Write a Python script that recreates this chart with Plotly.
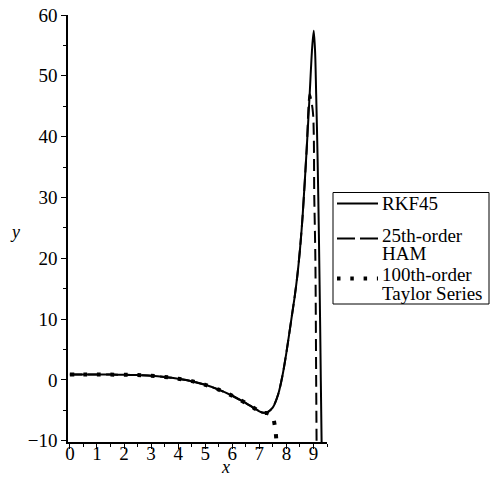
import plotly.graph_objects as go

# RKF45 solution
rkf_x = [0, 0.5, 1, 1.5, 2, 2.5, 3, 3.5, 4, 4.5, 5, 5.5, 6, 6.5, 6.8, 7.0, 7.15,
         7.3, 7.5, 7.7, 7.85, 8.0, 8.2, 8.3, 8.4, 8.5, 8.6, 8.75, 8.86, 8.95, 9.01,
         9.06, 9.1, 9.15, 9.2, 9.25, 9.3, 9.32]
rkf_y = [0.9, 0.9, 0.9, 0.88, 0.85, 0.8, 0.7, 0.5, 0.2, -0.2, -0.8, -1.6, -2.6,
         -3.8, -4.6, -5.15, -5.4, -5.3, -4.5, -2.3, 0.6, 4.5, 10.5, 13.5, 17.0,
         21.4, 27.0, 38.0, 47.0, 54.5, 57.4, 54.0, 47.0, 37.0, 24.0, 8.0, -10.0, -14.0]

# 25th-order HAM
ham_x = [0, 0.5, 1, 1.5, 2, 2.5, 3, 3.5, 4, 4.5, 5, 5.5, 6, 6.5, 6.8, 7.0, 7.15,
         7.3, 7.5, 7.7, 7.85, 8.0, 8.2, 8.3, 8.4, 8.5, 8.6, 8.75, 8.86, 8.98, 9.03,
         9.07, 9.1, 9.12]
ham_y = [0.9, 0.9, 0.9, 0.88, 0.85, 0.8, 0.7, 0.5, 0.2, -0.2, -0.8, -1.6, -2.6,
         -3.8, -4.6, -5.15, -5.4, -5.3, -4.5, -2.3, 0.6, 4.5, 10.5, 13.5, 17.0,
         21.4, 27.0, 38.0, 47.0, 44.0, 30.0, 20.0, 0.0, -14.0]

# 100th-order Taylor series
tay_x = [0, 0.5, 1, 1.5, 2, 2.5, 3, 3.5, 4, 4.5, 5, 5.5, 6, 6.5, 6.8, 7.0, 7.15,
         7.3, 7.48, 7.59, 7.63, 7.66]
tay_y = [0.9, 0.9, 0.9, 0.88, 0.85, 0.8, 0.7, 0.5, 0.2, -0.2, -0.8, -1.6, -2.6,
         -3.8, -4.6, -5.15, -5.4, -5.45, -5.9, -8.1, -10.0, -12.0]

x_ticks = [0, 1, 2, 3, 4, 5, 6, 7, 8, 9]
y_ticks = [-10, 0, 10, 20, 30, 40, 50, 60]

legend_lines = [["RKF45"], ["25th-order", "HAM"], ["100th-order", "Taylor Series"]]

serif = "Liberation Serif, Times New Roman, serif"
W = H = 491
ML, MR, MT, MB = 68, 164, 15, 49
PW, PH = W - ML - MR, H - MT - MB


def px(xp):
    return (xp - ML) / PW


def py(yp):
    return (H - MB - yp) / PH


styles = [dict(color="black", width=2),
          dict(color="black", width=2, dash="12px,6px"),
          dict(color="black", width=4, dash="4px,9.5px")]
legend_styles = [dict(color="black", width=2),
                 dict(color="black", width=2, dash="18px,5px"),
                 dict(color="black", width=4, dash="3.5px,9.8px")]

fig = go.Figure()
for xs, ys, lines, st in zip([rkf_x, ham_x, tay_x], [rkf_y, ham_y, tay_y],
                             legend_lines, styles):
    fig.add_trace(go.Scatter(x=xs, y=ys, mode="lines", name=" ".join(lines),
                             showlegend=False,
                             line=dict(shape="spline", smoothing=0.8, **st)))

fig.update_xaxes(range=[-0.07, 9.5], tickvals=x_ticks, ticks="outside", ticklen=5,
                 tickcolor="black", showline=True, linecolor="black", linewidth=1.5,
                 showgrid=False, zeroline=False, automargin=False,
                 ticklabelstandoff=-12,
                 minor=dict(dtick=0.5, tick0=0, ticks="outside", ticklen=3, tickcolor="black"),
                 tickfont=dict(family=serif, size=19, color="black"))
fig.update_yaxes(range=[-10.2, 60], tickvals=y_ticks, ticks="outside", ticklen=5,
                 tickcolor="black", showline=True, linecolor="black", linewidth=1.5,
                 showgrid=False, zeroline=False, automargin=False,
                 minor=dict(dtick=5, tick0=0, ticks="outside", ticklen=3, tickcolor="black"),
                 tickfont=dict(family=serif, size=19, color="black"))

fig.add_annotation(text="<i>x</i>", xref="x", yref="paper", x=5.75, y=py(467),
                   showarrow=False, font=dict(family=serif, size=18, color="black"),
                   yanchor="middle")
fig.add_annotation(text="<i>y</i>", xref="paper", yref="y", x=px(15), y=24.3,
                   showarrow=False, font=dict(family=serif, size=18, color="black"),
                   xanchor="center")

# legend drawn by hand to match the reference box
fig.add_shape(type="rect", xref="paper", yref="paper", x0=px(333), x1=px(489),
              y0=py(304), y1=py(192.5), line=dict(color="black", width=1),
              fillcolor="white", layer="above")
sample_y = [203.5, 238.5, 278.5]
text_y = [[203.5], [235, 253.5], [274, 293.5]]
for st, sy, lines, tys in zip(legend_styles, sample_y, legend_lines, text_y):
    fig.add_shape(type="line", xref="paper", yref="paper", x0=px(337), x1=px(378),
                  y0=py(sy), y1=py(sy), line=st, layer="above")
    for t, ty in zip(lines, tys):
        fig.add_annotation(text=t, xref="paper", yref="paper", x=px(380), y=py(ty),
                           xanchor="left", yanchor="middle", showarrow=False,
                           font=dict(family=serif, size=19, color="black"))

fig.update_layout(
    width=W, height=H,
    margin=dict(l=ML, r=MR, t=MT, b=MB, autoexpand=False),
    plot_bgcolor="white", paper_bgcolor="white",
    font=dict(family=serif, color="black"),
    showlegend=False,
)

fig.write_html("out.html", post_script="document.body.style.margin='0';",
               config={"displayModeBar": False})
